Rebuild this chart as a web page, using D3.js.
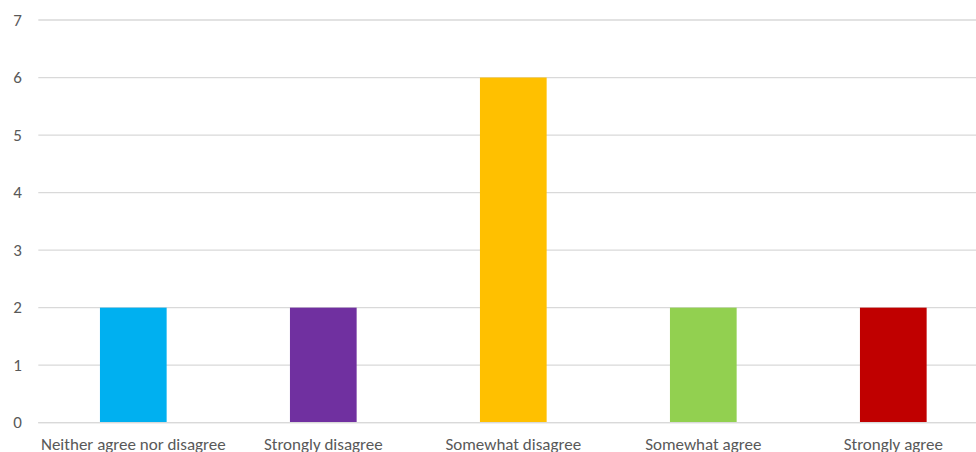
<!DOCTYPE html>
<html><head><meta charset="utf-8">
<script src="https://cdn.jsdelivr.net/npm/d3@7"></script>
<style>html,body{margin:0;padding:0;background:#fff;overflow:hidden}</style>
</head><body>
<svg id="chart" width="976" height="452"></svg>
<script>
const categories = ["Neither agree nor disagree","Strongly disagree","Somewhat disagree","Somewhat agree","Strongly agree"];
const values = [2,2,6,2,2];
const colors = ["#00b0f0","#7030a0","#ffc000","#92d050","#c00000"];
const yTicks = [0,1,2,3,4,5,6,7];

const svg = d3.select("#chart");
const font = "Carlito, 'Liberation Sans', sans-serif";
const x = d3.scaleBand().domain(categories).range([38.3, 988.3]).paddingInner(0.649).paddingOuter(0.3245);
const y = d3.scaleLinear().domain([0,7]).range([422.7, 20]);

svg.append("g").selectAll("line").data(yTicks).join("line")
  .attr("x1", 38.3).attr("x2", 976)
  .attr("y1", d=>y(d)).attr("y2", d=>y(d))
  .attr("stroke", "#d9d9d9").attr("stroke-width", 1.3);

svg.append("g").selectAll("text").data(yTicks).join("text")
  .attr("x", 17.5).attr("y", d=>y(d)+5.7)
  .attr("text-anchor","middle")
  .attr("font-family", font).attr("font-size", 17).attr("fill","#595959")
  .text(d=>d);

svg.append("g").selectAll("rect").data(categories).join("rect")
  .attr("x", d=>x(d)).attr("width", x.bandwidth())
  .attr("y", (d,i)=>y(values[i])).attr("height", (d,i)=>y(0)-y(values[i]))
  .attr("fill", (d,i)=>colors[i]);

svg.append("line").attr("x1",38.3).attr("x2",976).attr("y1",y(0)).attr("y2",y(0))
  .attr("stroke","#d9d9d9").attr("stroke-width",1.3);

svg.append("g").selectAll("text").data(categories).join("text")
  .attr("x", d=>x(d)+x.bandwidth()/2).attr("y", 449.7)
  .attr("text-anchor","middle")
  .attr("font-family", font).attr("font-size", 17).attr("fill","#595959")
  .text(d=>d);
</script>
</body></html>
